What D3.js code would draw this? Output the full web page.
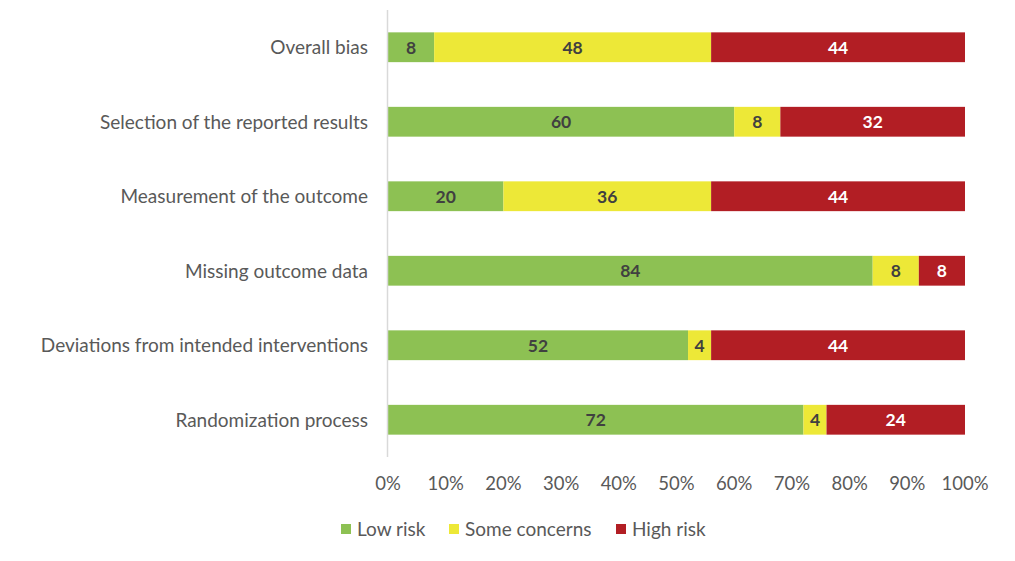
<!DOCTYPE html>
<html><head><meta charset="utf-8">
<script src="https://cdn.jsdelivr.net/npm/d3@7"></script>
<style>body{margin:0;background:#fff}svg{display:block}text{font-family:Lato,"Open Sans",sans-serif}</style>
</head><body><svg id="c" width="1015" height="561"></svg>
<script>
const categories = ["Overall bias","Selection of the reported results","Measurement of the outcome","Missing outcome data","Deviations from intended interventions","Randomization process"];
const lowRisk = [8,60,20,84,52,72];
const someConcerns = [48,8,36,8,4,4];
const highRisk = [44,32,44,8,44,24];
const seriesNames = ["Low risk","Some concerns","High risk"];
const colors = ["#8DC153","#EDE837","#B21E24"];
const labelColors = ["#404040","#404040","#ffffff"];
const tickValues = [0,10,20,30,40,50,60,70,80,90,100];

const svg = d3.select("#c");
const x = d3.scaleLinear().domain([0,100]).range([388,965]);
const y = d3.scaleBand().domain(categories).range([10,457]).paddingInner(0.6).paddingOuter(0.3);

const rows = categories.map((c,i)=>({cat:c, vals:[lowRisk[i],someConcerns[i],highRisk[i]]}));
const segs = [];
rows.forEach(r=>{let acc=0; r.vals.forEach((v,k)=>{segs.push({cat:r.cat,k,v,x0:acc,x1:acc+v}); acc+=v;});});

svg.selectAll("rect.bar").data(segs).enter().append("rect")
  .attr("x",d=>x(d.x0)).attr("width",d=>x(d.x1)-x(d.x0))
  .attr("y",d=>y(d.cat)).attr("height",y.bandwidth())
  .attr("fill",d=>colors[d.k]);

svg.selectAll("text.val").data(segs).enter().append("text")
  .attr("x",d=>(x(d.x0)+x(d.x1))/2).attr("y",d=>y(d.cat)+y.bandwidth()/2)
  .attr("dy","0.36em").attr("text-anchor","middle")
  .attr("font-size",17.5).attr("font-weight","bold").attr("fill",d=>labelColors[d.k])
  .text(d=>d.v);

// y axis line
svg.append("line").attr("x1",387.5).attr("x2",387.5).attr("y1",10).attr("y2",457).attr("stroke","#d9d9d9").attr("stroke-width",1.5);

svg.selectAll("text.cat").data(categories).enter().append("text")
  .attr("x",368).attr("y",d=>y(d)+y.bandwidth()/2).attr("dy","0.36em")
  .attr("text-anchor","end").attr("font-size",19).attr("fill","#595959").text(d=>d);

svg.selectAll("text.tick").data(tickValues).enter().append("text")
  .attr("x",d=>x(d)).attr("y",483).attr("dy","0.36em").attr("text-anchor","middle")
  .attr("font-size",18.5).attr("fill","#595959").text(d=>d+"%");

const legX = [341,449,616];
const lg = svg.selectAll("g.leg").data(seriesNames).enter().append("g").attr("transform",(d,i)=>`translate(${legX[i]},529)`);
lg.append("rect").attr("x",0).attr("y",-5).attr("width",10).attr("height",10).attr("fill",(d,i)=>colors[i]);
lg.append("text").attr("x",16).attr("dy","0.36em").attr("font-size",19).attr("fill","#595959").text(d=>d);
</script></body></html>
